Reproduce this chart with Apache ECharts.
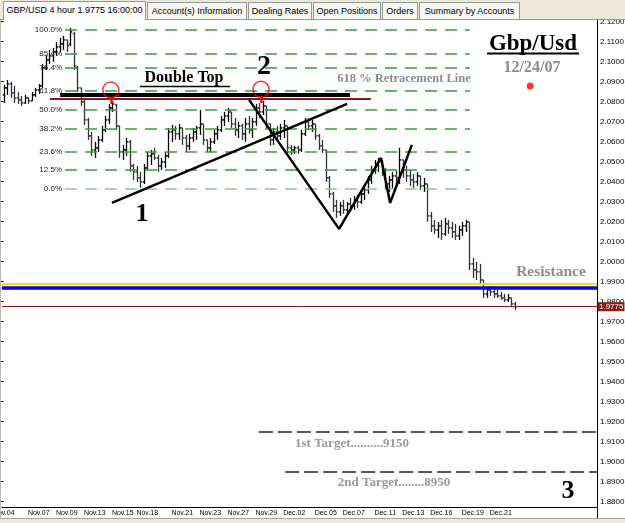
<!DOCTYPE html>
<html>
<head>
<meta charset="utf-8">
<script src="https://cdn.jsdelivr.net/npm/echarts@6/dist/echarts.min.js"></script>
<style>
*{margin:0;padding:0;}
body{width:625px;height:523px;overflow:hidden;background:#fff;position:relative;font-family:"Liberation Sans",Arial,sans-serif;}
#main{position:absolute;left:0;top:0;width:625px;height:523px;}
.tabs{position:absolute;left:0;top:0;width:625px;height:20px;background:#ece9d8;border-bottom:1px solid #919b9c;box-sizing:border-box;z-index:2;}
.tab{position:absolute;top:2px;height:17px;line-height:17px;font-size:9px;color:#000;background:#f7f7f3;border:1px solid #919b9c;border-bottom:none;box-sizing:border-box;text-align:center;white-space:nowrap;overflow:hidden;}
.tab.on{top:1px;height:19px;background:#fcfcfe;}
.leftedge{position:absolute;left:0;top:20px;width:1px;height:503px;background:#bdbab0;z-index:2;}
.scroll{position:absolute;left:0;top:518px;width:625px;height:5px;background:#ece9d8;border-top:1px solid #aca899;box-sizing:border-box;z-index:2;}
</style>
</head>
<body>
<div id="main"></div>
<div class="tabs">
  <div class="tab on" style="left:3px;width:143px">GBP/USD 4 hour 1.9775 16:00:00</div>
  <div class="tab" style="left:147px;width:100px">Account(s) Information</div>
  <div class="tab" style="left:248px;width:64px">Dealing Rates</div>
  <div class="tab" style="left:313px;width:68px">Open Positions</div>
  <div class="tab" style="left:382px;width:36px">Orders</div>
  <div class="tab" style="left:419px;width:101px">Summary by Accounts</div>
</div>
<div class="leftedge"></div>
<div class="scroll"></div>
<script>
// 4 hour bars, GBP/USD, Nov 04 - Dec 24 2007 (one slot per bar, free slots on the right)
var slotCount = 170;

var opens = [
  2.0834,2.0869,2.0889,2.0844,2.0819,2.0809,2.0794,2.0819,2.0804,2.0834,
  2.0859,2.0879,2.0969,2.1009,2.1029,2.1049,2.1074,2.1089,2.1109,2.1089,
  2.1139,2.0969,2.0869,2.0799,2.0709,2.0629,2.0559,2.0569,2.0609,2.0659,
  2.0709,2.0769,2.0784,2.0679,2.0549,2.0559,2.0599,2.0479,2.0449,2.0419,
  2.0399,2.0469,2.0529,2.0539,2.0519,2.0479,2.0499,2.0529,2.0649,2.0659,
  2.0639,2.0669,2.0619,2.0579,2.0619,2.0649,2.0669,2.0689,2.0609,2.0569,
  2.0599,2.0639,2.0659,2.0709,2.0729,2.0749,2.0689,2.0659,2.0679,2.0639,
  2.0689,2.0659,2.0699,2.0769,2.0749,2.0779,2.0689,2.0609,2.0649,2.0629,
  2.0669,2.0679,2.0569,2.0559,2.0569,2.0559,2.0639,2.0699,2.0679,2.0689,
  2.0629,2.0579,2.0559,2.0419,2.0339,2.0279,2.0249,2.0279,2.0259,2.0289,
  2.0279,2.0309,2.0299,2.0339,2.0359,2.0409,2.0459,2.0489,2.0499,2.0449,
  2.0389,2.0409,2.0429,2.0419,2.0509,2.0459,2.0429,2.0409,2.0399,2.0429,
  2.0379,2.0389,2.0229,2.0179,2.0159,2.0179,2.0139,2.0189,2.0169,2.0149,
  2.0129,2.0159,2.0179,2.0199,1.9989,1.9959,1.9949,1.9909,1.9839,1.9859,
  1.9849,1.9839,1.9829,1.9819,1.9809,1.9819,1.9789
];
var closes = [
  2.0869,2.0889,2.0844,2.0819,2.0809,2.0794,2.0819,2.0804,2.0834,2.0859,
  2.0879,2.0969,2.1009,2.1029,2.1049,2.1074,2.1089,2.1109,2.1079,2.1149,
  2.0979,2.0869,2.0799,2.0709,2.0629,2.0559,2.0569,2.0609,2.0659,2.0709,
  2.0769,2.0789,2.0679,2.0549,2.0559,2.0599,2.0479,2.0449,2.0419,2.0399,
  2.0469,2.0529,2.0539,2.0519,2.0479,2.0499,2.0529,2.0649,2.0659,2.0639,
  2.0669,2.0619,2.0579,2.0619,2.0649,2.0669,2.0689,2.0609,2.0569,2.0599,
  2.0639,2.0659,2.0709,2.0729,2.0749,2.0689,2.0659,2.0679,2.0639,2.0689,
  2.0659,2.0699,2.0769,2.0749,2.0779,2.0689,2.0609,2.0649,2.0629,2.0669,
  2.0679,2.0569,2.0559,2.0569,2.0559,2.0639,2.0699,2.0679,2.0689,2.0629,
  2.0579,2.0559,2.0419,2.0339,2.0279,2.0249,2.0279,2.0259,2.0289,2.0279,
  2.0309,2.0299,2.0339,2.0359,2.0409,2.0459,2.0489,2.0499,2.0449,2.0389,
  2.0409,2.0429,2.0419,2.0509,2.0459,2.0429,2.0409,2.0399,2.0429,2.0379,
  2.0389,2.0229,2.0179,2.0159,2.0179,2.0139,2.0189,2.0169,2.0149,2.0129,
  2.0159,2.0179,2.0199,1.9989,1.9959,1.9949,1.9909,1.9839,1.9859,1.9849,
  1.9839,1.9829,1.9819,1.9809,1.9819,1.9789,1.9775
];
var lows = [
  2.0794,2.0834,2.0819,2.0794,2.0789,2.0779,2.0789,2.0789,2.0804,2.0824,
  2.0839,2.0869,2.0959,2.0989,2.0999,2.1029,2.1049,2.1059,2.1049,2.1079,
  2.0959,2.0849,2.0779,2.0684,2.0609,2.0529,2.0519,2.0549,2.0599,2.0649,
  2.0689,2.0749,2.0659,2.0519,2.0509,2.0529,2.0449,2.0409,2.0399,2.0369,
  2.0389,2.0459,2.0484,2.0509,2.0449,2.0459,2.0469,2.0519,2.0599,2.0609,
  2.0609,2.0584,2.0549,2.0559,2.0599,2.0609,2.0634,2.0584,2.0549,2.0549,
  2.0589,2.0609,2.0649,2.0679,2.0699,2.0669,2.0629,2.0619,2.0609,2.0599,
  2.0639,2.0619,2.0679,2.0719,2.0734,2.0669,2.0579,2.0584,2.0599,2.0609,
  2.0619,2.0534,2.0534,2.0539,2.0539,2.0549,2.0629,2.0659,2.0649,2.0609,
  2.0559,2.0544,2.0399,2.0319,2.0249,2.0219,2.0229,2.0239,2.0234,2.0249,
  2.0259,2.0269,2.0289,2.0309,2.0339,2.0389,2.0439,2.0449,2.0429,2.0359,
  2.0349,2.0369,2.0379,2.0389,2.0419,2.0399,2.0379,2.0369,2.0379,2.0359,
  2.0349,2.0199,2.0149,2.0139,2.0119,2.0109,2.0129,2.0139,2.0119,2.0109,
  2.0109,2.0129,2.0149,1.9959,1.9919,1.9909,1.9889,1.9819,1.9819,1.9829,
  1.9819,1.9819,1.9809,1.9799,1.9799,1.9779,1.9759
];
var highs = [
  2.0884,2.0909,2.0899,2.0879,2.0849,2.0829,2.0834,2.0824,2.0849,2.0869,
  2.0889,2.0989,2.1034,2.1059,2.1069,2.1099,2.1119,2.1129,2.1109,2.1169,
  2.1149,2.0979,2.0869,2.0819,2.0719,2.0649,2.0599,2.0629,2.0679,2.0729,
  2.0789,2.0804,2.0789,2.0679,2.0584,2.0619,2.0609,2.0489,2.0479,2.0449,
  2.0489,2.0549,2.0559,2.0569,2.0534,2.0519,2.0549,2.0669,2.0684,2.0679,
  2.0689,2.0669,2.0634,2.0639,2.0669,2.0679,2.0759,2.0689,2.0609,2.0619,
  2.0659,2.0679,2.0729,2.0749,2.0769,2.0749,2.0719,2.0699,2.0689,2.0719,
  2.0729,2.0719,2.0789,2.0794,2.0804,2.0779,2.0689,2.0669,2.0679,2.0689,
  2.0709,2.0679,2.0584,2.0579,2.0579,2.0659,2.0719,2.0719,2.0709,2.0689,
  2.0639,2.0609,2.0559,2.0429,2.0349,2.0309,2.0299,2.0309,2.0299,2.0319,
  2.0329,2.0334,2.0359,2.0379,2.0429,2.0479,2.0509,2.0519,2.0509,2.0469,
  2.0429,2.0449,2.0459,2.0569,2.0509,2.0479,2.0459,2.0439,2.0449,2.0429,
  2.0419,2.0389,2.0249,2.0209,2.0199,2.0209,2.0219,2.0209,2.0199,2.0189,
  2.0179,2.0199,2.0209,2.0199,2.0019,1.9999,1.9989,1.9909,1.9869,1.9879,
  1.9869,1.9859,1.9849,1.9839,1.9839,1.9819,1.9799
];

// date labels: slot index and text
var dateSlots  = [0, 10, 18, 26, 34, 41, 51, 59, 67, 75, 83, 92, 100, 109, 117, 125, 134, 142];
var dateLabels = ['Nov.04','Nov.07','Nov.09','Nov.13','Nov.15','Nov.18','Nov.21','Nov.23','Nov.27',
                  'Nov.29','Dec.02','Dec.05','Dec.07','Dec.11','Dec.13','Dec.16','Dec.19','Dec.21'];

// fibonacci retracement levels
var fibLevels = [2.1159, 2.1042, 2.0970, 2.0857, 2.0761, 2.0666, 2.0551, 2.0461, 2.0364];
var fibNames  = ['100.0%','85.4%','76.4%','61.8%','50.0%','38.2%','23.6%','12.5%','0.0%'];
var fibFrom = 17.5, fibTo = 133.2;

// double top line and 61.8 line
var doubleTop = [[16.1, 2.0834], [98.9, 2.0834]];
var redLine   = [[13.2, 2.0814], [104.9, 2.0814]];
var tops      = [[30.6, 2.0859], [73.5, 2.0862]];
var topStubs  = [[[30.6, 2.0824], [30.6, 2.0789]], [[73.5, 2.0824], [73.5, 2.0794]]];

// trend lines
var supportLine = [[30.9, 2.0294], [98.1, 2.0789]];
var zigzagLine  = [[70.1, 2.0809], [95.8, 2.0164], [107.8, 2.0519], [110.4, 2.0294], [116.6, 2.0584]];

var resistTop = 1.98875, resistLow = 1.98715, lastPrice = 1.9775;
var target1 = [72.9, 1.9150], target2 = [80.4, 1.8950];
var redDot = [150.4, 2.0879];

var slots = [];
var labelOf = {};
for (var i = 0; i < slotCount; i++) slots.push(String(i));
dateSlots.forEach(function (s, k) { labelOf[s] = dateLabels[k]; });

var bars = opens.map(function (o, i) { return [i, o, closes[i], lows[i], highs[i]]; });

function renderBar(params, api) {
  var i = api.value(0);
  var o = api.coord([i, api.value(1)]);
  var c = api.coord([i, api.value(2)]);
  var l = api.coord([i, api.value(3)]);
  var h = api.coord([i, api.value(4)]);
  var x = Math.round(h[0]) + 0.5;
  var col = api.value(2) >= api.value(1) ? '#000' : '#333';
  var st = {stroke: col, lineWidth: 1.3};
  return {type: 'group', children: [
    {type: 'line', shape: {x1: x, y1: h[1], x2: x, y2: l[1]}, style: st},
    {type: 'line', shape: {x1: x - 1.8, y1: o[1], x2: x, y2: o[1]}, style: st},
    {type: 'line', shape: {x1: x, y1: c[1], x2: x + 1.8, y2: c[1]}, style: st}
  ]};
}

var green = '#3a9a3a';
var fibMarks = fibLevels.map(function (v, k) {
  return [{coord: [fibFrom, v],
           lineStyle: {color: k === fibLevels.length - 1 ? '#8fca8f' : green, width: 1.5, type: [12, 8]},
           label: {show: true, position: 'start', formatter: fibNames[k], fontSize: 8, color: '#222', distance: 3,
                   fontFamily: 'Liberation Sans'}},
          {coord: [fibTo, v]}];
});

var otherMarks = [
  [{coord: doubleTop[0], lineStyle: {color: '#000', width: 4, type: 'solid'}}, {coord: doubleTop[1]}],
  [{coord: redLine[0], lineStyle: {color: '#8b1a1a', width: 2, type: 'solid'}}, {coord: redLine[1]}],
  [{coord: topStubs[0][0], lineStyle: {color: '#ff0000', width: 2.5, type: 'solid'}}, {coord: topStubs[0][1]}],
  [{coord: topStubs[1][0], lineStyle: {color: '#ff0000', width: 2.5, type: 'solid'}}, {coord: topStubs[1][1]}],
  [{coord: target1, lineStyle: {color: '#222', width: 1.5, type: [14, 5]}}, {coord: [slotCount - 0.5, target1[1]]}],
  [{coord: target2, lineStyle: {color: '#222', width: 1.5, type: [14, 5]}}, {coord: [slotCount - 0.5, target2[1]]}],
  {yAxis: resistTop, lineStyle: {color: '#f2e600', width: 2, type: 'solid'}},
  {yAxis: resistLow, lineStyle: {color: '#0000ee', width: 3.5, type: 'solid'}},
  {yAxis: lastPrice, lineStyle: {color: '#8b1a1a', width: 1, type: 'solid'},
   label: {show: true, position: 'end', formatter: '1.9775', fontSize: 8, color: '#fff',
           backgroundColor: '#8b1a1a', padding: [1, 1, 0, 1], distance: 1, fontFamily: 'Liberation Sans'}}
];

var serif = '"Liberation Serif","Times New Roman",serif';
function txt(x, y, s, size, color) {
  return {type: 'text', x: x, y: y, z: 50,
          style: {text: s, font: 'bold ' + size + 'px ' + serif, fill: color, align: 'center', verticalAlign: 'middle'}};
}
function seg(x1, y1, x2, y2, w) {
  return {type: 'line', z: 50, shape: {x1: x1, y1: y1, x2: x2, y2: y2}, style: {stroke: '#000', lineWidth: w}};
}

var chart = echarts.init(document.getElementById('main'));
chart.setOption({
  animation: false,
  backgroundColor: '#fff',
  grid: {left: 2, right: 28, top: 21.7, bottom: 21.3, outerBoundsMode: 'none', containLabel: false},
  xAxis: [{
    type: 'category', data: slots, boundaryGap: true, position: 'bottom', offset: 5.3,
    axisLine: {lineStyle: {color: '#000', width: 1}},
    axisTick: {inside: true, length: 4, alignWithLabel: true, lineStyle: {color: '#000'},
               interval: function (i) { return i % 5 === 0 && i <= 146; }},
    axisLabel: {interval: 0, margin: 3, fontSize: 7, color: '#000', fontFamily: 'Liberation Sans',
                formatter: function (v, i) { return labelOf[i] || ''; }},
    splitLine: {show: false}
  }, {
    type: 'value', min: -0.5, max: slotCount - 0.5, show: false
  }],
  yAxis: {
    type: 'value', position: 'right', min: 1.88, max: 2.12, interval: 0.01,
    axisLine: {show: false},
    axisTick: {show: true, inside: true, length: 3, lineStyle: {color: '#000'}},
    axisLabel: {margin: 3, fontSize: 8, color: '#000', fontFamily: 'Liberation Sans',
                formatter: function (v) { return v.toFixed(4); }},
    splitLine: {show: false}
  },
  series: [{
    type: 'custom', name: 'GBP/USD', xAxisIndex: 0, renderItem: renderBar,
    encode: {x: 0, y: [1, 2, 3, 4]}, data: bars, z: 3
  }, {
    type: 'line', name: 'marks', xAxisIndex: 1, data: [], clip: false, z: 4,
    markLine: {silent: true, symbol: ['none', 'none'], animation: false, precision: 5,
               label: {show: false}, data: fibMarks.concat(otherMarks)}
  }, {
    type: 'line', name: 'support', xAxisIndex: 1, data: supportLine, symbol: 'none', clip: false, z: 5,
    lineStyle: {color: '#000', width: 2.5}
  }, {
    type: 'line', name: 'zigzag', xAxisIndex: 1, data: zigzagLine, symbol: 'none', clip: false, z: 5,
    lineStyle: {color: '#000', width: 2.5}
  }, {
    type: 'scatter', name: 'tops', xAxisIndex: 1, data: tops, symbol: 'circle', symbolSize: 16, z: 6,
    itemStyle: {color: 'rgba(0,0,0,0)', borderColor: '#ff0000', borderWidth: 1.5}
  }, {
    type: 'scatter', name: 'dot', xAxisIndex: 1, data: [redDot], symbolSize: 7, z: 6,
    itemStyle: {color: '#ff0000'}
  }],
  graphic: [
    seg(597.5, 20, 597.5, 523, 1),
    txt(184, 78, 'Double Top', 16, '#000'),
    seg(140, 86.5, 230, 86.5, 1.5),
    txt(264, 67, '2', 28, '#000'),
    txt(142, 214, '1', 26, '#000'),
    txt(568, 491, '3', 26, '#000'),
    txt(404, 79, '618 % Retracement Line', 12.5, '#8c8c8c'),
    txt(533, 44, 'Gbp/Usd', 23, '#000'),
    seg(487, 53.5, 579, 53.5, 2),
    txt(532, 68, '12/24/07', 16, '#8c8c8c'),
    txt(551, 272, 'Resistance', 15.5, '#8c8c8c'),
    txt(352, 444, '1st Target..........9150', 13, '#999'),
    txt(394, 483, '2nd Target........8950', 13, '#999')
  ]
});
</script>
</body>
</html>
